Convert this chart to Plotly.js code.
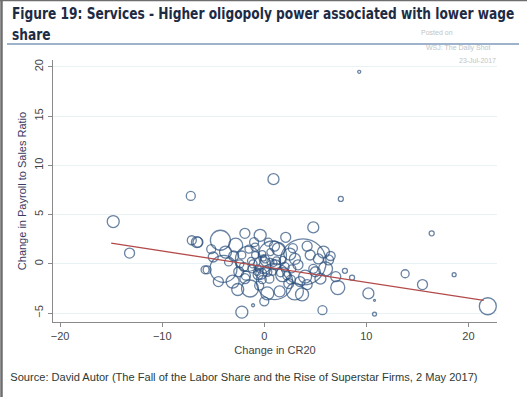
<!DOCTYPE html>
<html>
<head>
<meta charset="utf-8">
<script src="https://cdn.plot.ly/plotly-3.0.1.min.js"></script>
<style>html,body{margin:0;padding:0;background:#fff;}#chart{width:527px;height:397px;}</style>
</head>
<body>
<div id="chart"></div>
<script>
// ---- data ----
const changeCR20 = [
  -14.8, -13.2, -7.2, 0.9, 9.3, 7.5, 16.4, 4.8, 7.9, 8.6, 10.2, 10.8, 10.8, 13.8, 15.5, 18.6, 21.9, 7.2,
  -7.1, -6.6, -5.6, -6.5, -4.3, -1.9, -0.4, 2.1, -4.0, -5.8, 3.8, 1.0, -1.6, 0.8, -1.4, 3.0, 3.7, 6.0,
  5.3, -2.2, -1.1, 5.7, -2.8, -0.2, 1.8, 4.0, 7.0, -3.1, -0.6, 0.3, 4.5, 2.5, -5.0, -2.5, -1.2, 0.1,
  1.1, 1.4, -0.9, 0.4, 3.3, 5.0, 2.4, -1.9, -3.5, -0.2, 0.8, 2.7, 4.2, 6.3,
  -0.9, -0.2, 0.6, -1.1, 1.8, -2.2, 0.3, -0.7,
  -3.0, -2.0, -1.5, -0.5, 0.5, 1.2, 2.0, 2.8, 3.5, 4.8, 5.5, 6.5, -3.8, -4.5, -2.6, 1.5, 0.0, 3.0,
  5.8, -1.0, 1.0, 2.2, -0.3, 4.2, -5.2,
  -1.3, -0.6, 0.2, 0.9, -1.8, 1.6, -0.1, 0.6, -2.4, 2.6
];
const changePayrollRatio = [
  4.3, 1.1, 6.9, 8.6, 19.5, 6.6, 3.1, 3.7, -0.7, -1.4, -3.0, -3.7, -5.1, -1.0, -2.1, -1.1, -4.3, -2.4,
  2.4, 2.2, -0.6, 2.2, 2.4, 3.1, 2.9, 2.7, -0.5, -0.6, 0.2, -1.8, 0.5, 0.9, -2.5, -2.8, -3.1, -0.5,
  0.5, -4.9, -4.2, -4.7, 1.9, -0.1, -1.1, -1.3, -1.3, -1.8, -1.1, -3.0, 0.9, 1.0, 0.7, -0.8, -0.5, 0.5,
  -0.1, 1.5, 1.7, 2.2, -0.1, -0.8, -2.0, -1.5, 0.2, -1.6, -0.8, -0.5, -2.1, 0.4,
  0.9, 1.0, 0.2, 0.0, 0.4, 0.9, -0.8, -0.8,
  0.8, -0.3, 1.5, -2.2, -1.5, 0.3, -0.3, 1.6, -1.8, -0.5, -1.5, 0.8, 1.2, -1.8, -2.6, -2.8, -3.8, 0.5,
  1.2, 2.2, 1.8, -1.2, -1.0, 1.8, 1.5,
  0.3, -0.4, -0.6, 0.1, -1.2, -0.9, 0.6, 1.2, 0.0, -1.6
];
const industryWeight = [
  12, 10, 9, 11, 3, 5, 5, 11, 5, 5, 11, 2, 4, 8, 10, 4, 17, 14,
  9, 11, 8, 10, 20, 10, 12, 10, 27, 8, 46, 36, 25, 28, 17, 17, 13, 14,
  10, 12, 3, 9, 14, 17, 14, 13, 10, 13, 10, 13, 10, 12, 10, 10, 8, 8,
  10, 13, 8, 8, 10, 10, 10, 10, 8, 8, 7, 8, 10, 10,
  7, 7, 7, 8, 7, 8, 9, 7,
  10, 9, 8, 9, 9, 8, 9, 9, 10, 9, 11, 9, 12, 10, 12, 11, 9, 11,
  12, 9, 10, 8, 11, 10, 9,
  7, 6, 8, 7, 9, 8, 6, 7, 8, 9
];
const fitX = [-15, 21.5];
const fitY = [2.1, -3.7];
const yTicks = [-5, 0, 5, 10, 15, 20];
const xTicks = [-20, -10, 0, 10, 20];
const titleLine1 = "Figure 19: Services - Higher oligopoly power associated with lower wage";
const titleLine2 = "share";
const xTitle = "Change in CR20";
const yTitle = "Change in Payroll to Sales Ratio";
const sourceText = "Source: David Autor (The Fall of the Labor Share and the Rise of Superstar Firms, 2 May 2017)";
const watermark = ["Posted on", "WSJ: The Daily Shot", "23-Jul-2017"];

// ---- layout geometry ----
const W = 527, H = 397;
const M = {l: 53, r: 30, t: 60, b: 75};
const PW = W - M.l - M.r, PH = H - M.t - M.b;
const px2x = p => (p - M.l) / PW;
const py2y = p => (H - M.b - p) / PH;

const tick = v => (v < 0 ? "\u2212" + Math.abs(v) : String(v));

const traces = [
  {
    type: "scatter", mode: "markers",
    x: changeCR20, y: changePayrollRatio,
    marker: {size: industryWeight, sizemode: "diameter", color: "rgba(0,0,0,0)",
             line: {color: "#2b4f7c", width: 1.3}},
    hoverinfo: "x+y", showlegend: false
  },
  {
    type: "scatter", mode: "lines",
    x: fitX, y: fitY,
    line: {color: "#b34a4a", width: 1.3},
    showlegend: false, hoverinfo: "skip"
  }
];

const titleFont = {family: "DejaVu Sans Condensed, DejaVu Sans, sans-serif", size: 16, color: "#1d2b45", weight: 700};
const wmFont = {family: "Liberation Sans, Arial, sans-serif", size: 7, color: "#c4c4c4"};

const annotations = [
  {text: "<b>" + titleLine1 + "<br>" + titleLine2 + "</b>", x: px2x(10), y: py2y(24), xanchor: "left", yanchor: "middle", align: "left", font: titleFont},
  {text: watermark[0], x: px2x(437), y: py2y(32), xanchor: "center", yanchor: "middle", font: wmFont},
  {text: watermark[1], x: px2x(458), y: py2y(48), xanchor: "center", yanchor: "middle", font: wmFont},
  {text: watermark[2], x: px2x(477), y: py2y(61), xanchor: "center", yanchor: "middle", font: wmFont},
  {text: sourceText, x: px2x(8), y: py2y(377), xanchor: "left", yanchor: "middle",
   font: {family: "Liberation Sans, Arial, sans-serif", size: 11.5, color: "#2e3a33"}}
].map(a => Object.assign({xref: "paper", yref: "paper", showarrow: false}, a));

const shapes = [
  {type: "line", xref: "paper", yref: "paper", x0: px2x(7), x1: px2x(519), y0: py2y(44), y1: py2y(44),
   line: {color: "#9fb2cb", width: 2.2}},
  {type: "line", xref: "paper", yref: "paper", x0: px2x(1.5), x1: px2x(1.5), y0: py2y(0), y1: py2y(397),
   line: {color: "#6e6e6e", width: 2.5}},
  {type: "line", xref: "paper", yref: "paper", x0: px2x(0), x1: px2x(527), y0: py2y(0.5), y1: py2y(0.5),
   line: {color: "#6e6e6e", width: 1.5}}
];

const axisFont = {family: "Liberation Sans, Arial, sans-serif", size: 11, color: "#444"};

const layout = {
  width: W, height: H,
  margin: M,
  paper_bgcolor: "#fff", plot_bgcolor: "#fff",
  showlegend: false,
  xaxis: {
    range: [-20.7, 22.8], tickvals: xTicks, ticktext: xTicks.map(tick),
    showgrid: false, zeroline: false, showline: true, linecolor: "#8a8a8a", linewidth: 1.2,
    ticks: "outside", ticklen: 4, tickcolor: "#8a8a8a", tickfont: axisFont,
    title: {text: xTitle, font: axisFont, standoff: 4}
  },
  yaxis: {
    range: [-5.9, 20.7], tickvals: yTicks, ticktext: yTicks.map(tick), tickangle: -90,
    showgrid: true, gridcolor: "#e9f2f2", gridwidth: 1, zeroline: false,
    showline: true, linecolor: "#8a8a8a", linewidth: 1.2,
    ticks: "outside", ticklen: 4, tickcolor: "#8a8a8a", tickfont: axisFont,
    title: {text: yTitle, font: {family: "Liberation Sans, Arial, sans-serif", size: 11, color: "#3a3a62"}, standoff: 4}
  },
  annotations: annotations,
  shapes: shapes
};

// horizontally condense a text annotation so it spans the given pixel width
function condense(idx, targetWidth) {
  const t = document.querySelector('g.annotation[data-index="' + idx + '"] text.annotation-text');
  if (!t) return;
  const bb = t.getBBox();
  const s = Math.min(1, targetWidth / bb.width);
  const bx = bb.x;
  const prev = t.getAttribute("transform") || "";
  t.setAttribute("transform", prev + " translate(" + bx + ",0) scale(" + s + ",1) translate(" + (-bx) + ",0)");
}

Plotly.newPlot("chart", traces, layout, {displayModeBar: false, staticPlot: true}).then(function () {
  condense(0, 503);
  condense(4, 468);
});
</script>
</body>
</html>
